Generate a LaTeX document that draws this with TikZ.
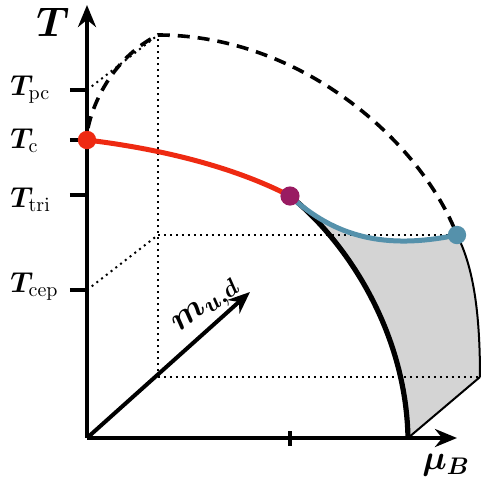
\documentclass[tikz,border=0pt]{standalone}
\usepackage{amsmath,amssymb,bm}
\usepackage{xcolor}
\usetikzlibrary{arrows.meta}

\definecolor{cepred}{HTML}{EE2A12}
\definecolor{tripurple}{HTML}{991B62}
\definecolor{cepblue}{HTML}{5591AB}

\begin{document}
\begin{tikzpicture}[x=0.5pt,y=-0.5pt,
    axis/.style={line width=2pt,-{Stealth[length=11pt,width=9pt]}},
    tick/.style={line width=2pt},
    guide/.style={line width=1pt,dotted},
    crit/.style={circle,inner sep=0pt,minimum size=9pt},
    ticklabel/.style={anchor=base west,font=\Large,inner sep=0pt}]
  \useasboundingbox (0,0) rectangle (481,489);
  % points of the box
  \coordinate (O) at (87,438);
  \coordinate (B) at (158,377);
  \coordinate (Bt) at (158,35);
  \coordinate (Bm) at (158,235);
  \coordinate (Rb) at (480,377);
  \coordinate (Fb) at (408,438);
  \coordinate (Pc) at (87,90);
  \coordinate (Cep) at (87,290);
  % grey sheet
  \fill[black!17] (290,196) .. controls (335,237) and (385,250) .. (457,235)
    .. controls (475,270) and (480,320) .. (480,377) -- (408,438)
    .. controls (406,330) and (345,240) .. (290,196);
  % dotted guides
  \draw[guide] (B) -- (Bt);
  \draw[guide] (B) -- (Rb);
  \draw[guide] (Bm) -- (457,235);
  \draw[guide] (Cep) -- (Bm);
  \draw[guide] (Pc) -- (Bt);
  % crossover line
  \draw[line width=1.8pt,dash pattern=on 6pt off 4pt] (88,128) .. controls (95,95) and (118,55) .. (Bt)
    .. controls (300,35) and (420,140) .. (457,235);
  % axes
  \draw[axis] (O) -- (87,5);
  \draw[axis] (O) -- (457,438);
  \draw[axis] (O) -- (250,292);
  \foreach \y in {90,140,195,290}
    \draw[tick] (70,\y) -- (87,\y);
  \draw[tick] (290,431) -- (290,446);
  % sheet borders
  \draw[line width=1pt] (Rb) -- (Fb);
  \draw[line width=1pt] (457,235) .. controls (475,270) and (480,320) .. (Rb);
  \node[crit] (tri) at (290,196) {};
  \node[crit] (c) at (87,140) {};
  \node[crit] (ce) at (457,235) {};
  \draw[line width=2.6pt] (tri.center) .. controls (345,240) and (406,330) .. (Fb);
  \draw[line width=2.5pt,cepblue] (tri.center) .. controls (335,237) and (385,250) .. (ce.center);
  \draw[line width=2.5pt,cepred] (c.center) .. controls (170,150) and (240,170) .. (tri.center);
  \fill[cepred] (c) circle (4.6pt);
  \fill[tripurple] (tri) circle (4.8pt);
  \fill[cepblue] (ce) circle (4.6pt);
  % labels
  \node[font=\huge,anchor=base west,inner sep=0pt] (lT) at (36,36) {$\bm{T}$};
  \node[ticklabel] (lpc) at (10,95) {$\bm{T}_{\mathrm{pc}}$};
  \node[ticklabel] (lc) at (10,148) {$\bm{T}_{\mathrm{c}}$};
  \node[ticklabel] (ltri) at (10,207) {$\bm{T}_{\mathrm{tri}}$};
  \node[ticklabel] (lcep) at (10,292) {$\bm{T}_{\mathrm{cep}}$};
  \node[font=\LARGE,rotate=38] (lm) at (207,307) {$\bm{m_{u,d}}$};
  \node[font=\LARGE] (lmu) at (446,465) {$\bm{\mu_B}$};
\end{tikzpicture}
\end{document}
